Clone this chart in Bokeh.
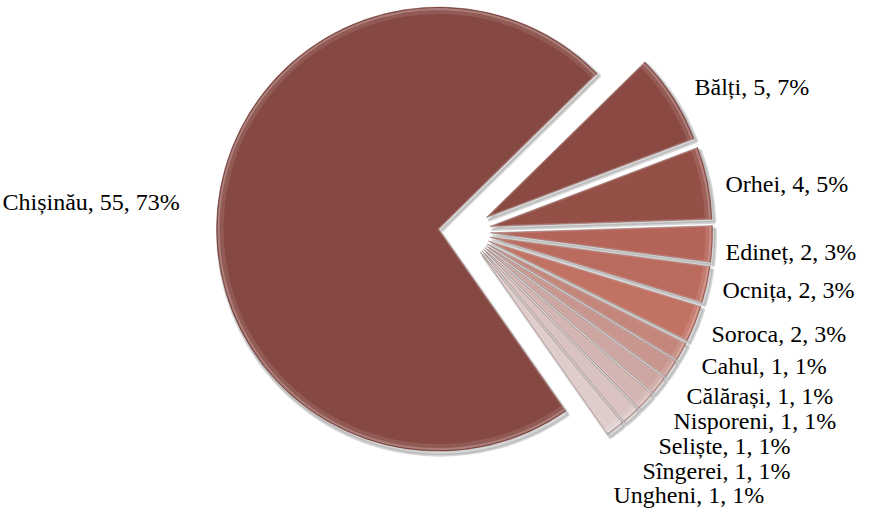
import math
from bokeh.plotting import figure
from bokeh.models import ColumnDataSource, Range1d
from bokeh.core.properties import value
from bokeh.embed import file_html
from bokeh.resources import INLINE

# ---- data ----
categories = ["Chișinău", "Bălți", "Orhei", "Edineț", "Ocnița", "Soroca", "Cahul",
              "Călărași", "Nisporeni", "Seliște", "Sîngerei", "Ungheni"]
counts = [55, 5, 4, 2, 2, 2, 1, 1, 1, 1, 1, 1]
percent_labels = ["73%", "7%", "5%", "3%", "3%", "3%", "1%", "1%", "1%", "1%", "1%", "1%"]

# ---- style / layout ----
colors = ["#864842", "#8a4942", "#944f47", "#b5645a", "#bb6a5e", "#c27262", "#c4857a",
          "#c8968e", "#cda6a1", "#d3b5b2", "#d9c2c0", "#dfcdcc"]
W, H = 864, 512
CX, CY = 464, 281      # pie centre (pixels, y up)
R = 222                # radius
EXPLODE = 26           # explosion distance
ROT = 145.0            # first slice angle, clockwise from 12 o'clock
# label anchors (left x, baseline y) in page pixels
label_pos = [(10, 217), (702, 102), (733, 199), (733, 267), (730, 305), (719, 349),
             (709, 381), (694, 411), (681, 436), (666, 461), (650, 486), (621, 510)]

total = sum(counts)
xs, ys, sa, ea = [], [], [], []
cum = 0.0
for v in counts:
    cw0 = ROT + cum / total * 360.0
    cw1 = cw0 + v / total * 360.0
    mid = math.radians(90.0 - (cw0 + cw1) / 2.0)
    xs.append(CX + EXPLODE * math.cos(mid))
    ys.append(CY + EXPLODE * math.sin(mid))
    sa.append(math.radians(90.0 - cw1))
    ea.append(math.radians(90.0 - cw0))
    cum += v

src = ColumnDataSource(dict(x=xs, y=ys, sa=sa, ea=ea, color=colors,
                            sx=[x + 2 for x in xs], sy=[y - 3 for y in ys]))

p = figure(width=W, height=H, x_range=Range1d(0, W), y_range=Range1d(0, H),
           output_backend="svg", toolbar_location=None, min_border=0)
p.axis.visible = False
p.grid.visible = False
p.outline_line_color = None
p.background_fill_color = "white"

# soft shadow
p.wedge(x="sx", y="sy", radius=R + 1, start_angle="sa", end_angle="ea",
        source=src, fill_color="#8a8a8a", fill_alpha=0.35, line_color="#8a8a8a",
        line_alpha=0.35, line_width=3)
# slices
p.wedge(x="x", y="y", radius=R, start_angle="sa", end_angle="ea", source=src,
        fill_color="color", line_color="#6e3a35", line_alpha=0.55, line_width=1)
# bevel highlight along rim
p.annular_wedge(x="x", y="y", inner_radius=R - 7, outer_radius=R - 1,
                start_angle="sa", end_angle="ea", source=src,
                fill_color="white", fill_alpha=0.10, line_color=None)
p.wedge(x="x", y="y", radius=R - 2, start_angle="sa", end_angle="ea", source=src,
        fill_color=None, line_color="white", line_alpha=0.22, line_width=2)

texts = [f"{c}, {n}, {pl}" for c, n, pl in zip(categories, counts, percent_labels)]
lsrc = ColumnDataSource(dict(x=[lx - 8 for lx, ly in label_pos],
                             y=[528 - ly for lx, ly in label_pos], text=texts))
p.text(x="x", y="y", text="text", source=lsrc, text_font=value("Liberation Serif"),
       text_font_size="24px", text_baseline="alphabetic", text_align="left",
       text_color="black")

open("out.html", "w").write(file_html(p, INLINE))
